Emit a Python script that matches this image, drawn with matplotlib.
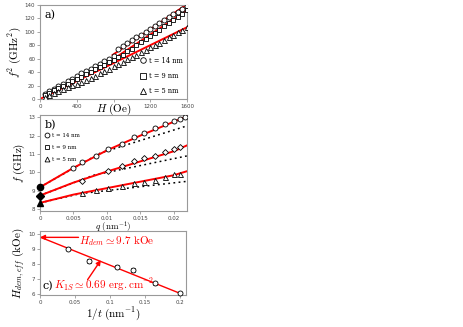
import matplotlib
matplotlib.use("Agg")
import matplotlib.pyplot as plt
import numpy as np

plt.rcParams['mathtext.fontset'] = 'cm'
plt.rcParams['font.family'] = ['DejaVu Serif']

# ---------- Panel a data ----------
H_field = [50, 100, 150, 200, 250, 300, 350, 400, 450, 500, 550, 600, 650, 700, 750, 800,
           850, 900, 950, 1000, 1050, 1100, 1150, 1200, 1250, 1300, 1350, 1400, 1450, 1500, 1550, 1600]
f2_t14 = [7, 12, 15.5, 19.5, 23, 27, 30.5, 34, 38, 41.5, 45, 49, 52.5, 56.5, 60, 64,
          74, 79, 83, 87.5, 92, 96, 100, 104.5, 109, 113, 117, 121.5, 126, 130, 134.5, 139]
f2_t9 = [6, 9.5, 13, 16.5, 20, 23, 26.5, 30, 33.5, 37, 40.5, 44, 47.5, 51, 54.5, 58,
         63, 66, 71, 75, 80, 85, 89, 94, 99, 103, 108, 113, 118, 122, 127, 132]
f2_t5 = [3, 6, 9, 12, 14.5, 17.5, 20.5, 23, 26, 29, 32, 35, 38, 41.5, 45, 48.5,
         52, 55.5, 59, 62.5, 66, 69.5, 73, 77, 80.5, 84, 88, 92, 96, 99.5, 103, 106.5]
fitA_H_t14 = [790, 1610]
fitA_f2_t14 = [65.5, 142]
fitA_H_t9 = [770, 1610]
fitA_f2_t9 = [57, 133]
fitA_H_t5 = [0, 1610]
fitA_f2_t5 = [0, 107.5]
legend_labels = ['t = 14 nm', 't = 9 nm', 't = 5 nm']

# ---------- Panel b data ----------
q_t14 = [0.0050, 0.00635, 0.00835, 0.01025, 0.01225, 0.014, 0.0156, 0.01725, 0.01875, 0.020, 0.021, 0.02175]
f_t14 = [10.22, 10.56, 10.88, 11.26, 11.57, 11.95, 12.15, 12.43, 12.62, 12.80, 12.92, 13.03]
q_t9 = [0.00625, 0.01025, 0.01225, 0.014, 0.0156, 0.01725, 0.01875, 0.020, 0.021]
f_t9 = [9.56, 10.10, 10.33, 10.60, 10.78, 10.92, 11.10, 11.28, 11.37]
q_t5 = [0.00625, 0.00835, 0.01025, 0.01225, 0.014, 0.0156, 0.01725, 0.01875, 0.020, 0.021]
f_t5 = [8.86, 9.05, 9.15, 9.24, 9.45, 9.50, 9.58, 9.75, 9.92, 9.93]
f0_values = [9.2, 8.75, 8.35]
fit_q = [0, 0.005, 0.01, 0.015, 0.02, 0.022]
fit_f_t14 = [9.2, 10.25, 11.2, 12.0, 12.75, 13.05]
fit_f_t9 = [8.75, 9.45, 10.05, 10.6, 11.15, 11.47]
fit_f_t5 = [8.35, 8.8, 9.15, 9.5, 9.85, 10.07]
lin_q_t14 = [0, 0.009, 0.022]
lin_f_t14 = [9.2, 11.05, 12.53]
lin_q_t9 = [0, 0.008, 0.022]
lin_f_t9 = [8.75, 9.85, 10.9]
lin_q_t5 = [0, 0.006, 0.022]
lin_f_t5 = [8.35, 8.85, 9.52]

# ---------- Panel c data ----------
inv_t = [0.0405, 0.0705, 0.110, 0.133, 0.165, 0.200]
H_dem = [9.01, 8.20, 7.80, 7.58, 6.71, 6.05]
H_dem_err = [0.12, 0.15, 0.1, 0.12, 0.12, 0.06]
fitC_x = [0, 0.2]
fitC_y = [9.77, 6.05]

fig = plt.figure(figsize=(4.63, 3.27), dpi=100)
W, Hh = 463.0, 327.0

def mk_axes(x0, y0, x1, y1):
    return fig.add_axes([x0 / W, 1 - y1 / Hh, (x1 - x0) / W, (y1 - y0) / Hh])

axa = mk_axes(40, 5, 187, 99)
axb = mk_axes(40, 115, 187, 211)
axc = mk_axes(40, 231, 186, 295)

spine_col = '#999999'
for ax in (axa, axb, axc):
    for s in ax.spines.values():
        s.set_color(spine_col)
        s.set_linewidth(0.8)
    ax.tick_params(direction='out', length=2, width=0.6, color=spine_col,
                   labelsize=4, labelcolor='#444444', pad=1.5)

mstyle = dict(mfc='white', mec='black', mew=0.6, ls='none')

# Panel a
axa.plot(fitA_H_t14, fitA_f2_t14, color='red', lw=1.4, zorder=2)
axa.plot(fitA_H_t9, fitA_f2_t9, color='red', lw=1.4, zorder=2)
axa.plot(fitA_H_t5, fitA_f2_t5, color='red', lw=1.4, zorder=2)
axa.plot(H_field, f2_t14, marker='o', ms=3.6, zorder=3, **mstyle)
axa.plot(H_field, f2_t9, marker='s', ms=3.4, zorder=3, **mstyle)
axa.plot(H_field, f2_t5, marker='^', ms=3.6, zorder=3, **mstyle)
axa.set_xlim(0, 1600)
axa.set_ylim(0, 140)
axa.set_xticks([0, 400, 800, 1200, 1600])
axa.set_xticklabels(['0', '400', '', '1200', '1600'], family='DejaVu Sans')
axa.set_yticks(range(0, 141, 20))
axa.set_yticklabels([str(v) for v in range(0, 141, 20)], family='DejaVu Sans')
axa.set_xlabel(r'$H\ (\mathrm{Oe})$', fontsize=8, labelpad=-5)
axa.set_ylabel(r'$f^2\ (\mathrm{GHz}^2)$', fontsize=8, labelpad=1)
axa.text(0.03, 0.95, 'a)', transform=axa.transAxes, fontsize=8, va='top', ha='left')
hs = [axa.plot([], [], marker=m, ms=4, **mstyle)[0] for m in ('o', 's', '^')]
axa.legend(hs, legend_labels, loc='lower right', frameon=False,
           handlelength=1.0, handletextpad=0.5, labelspacing=1.1,
           borderaxespad=0.15, prop={'family': 'DejaVu Serif', 'size': 4.8})

# Panel b
for lq, lf in ((lin_q_t14, lin_f_t14), (lin_q_t9, lin_f_t9), (lin_q_t5, lin_f_t5)):
    axb.plot(lq, lf, color='black', lw=1.1, ls=(0, (1.2, 2.2)), zorder=2)
for ff in (fit_f_t14, fit_f_t9, fit_f_t5):
    axb.plot(fit_q, ff, color='red', lw=1.4, zorder=3)
axb.plot(q_t14, f_t14, marker='o', ms=3.6, zorder=4, **mstyle)
axb.plot(q_t9, f_t9, marker='D', ms=3.0, zorder=4, **mstyle)
axb.plot(q_t5, f_t5, marker='^', ms=3.6, zorder=4, **mstyle)
for f0, m, s in zip(f0_values, ('o', 'D', '^'), (4.5, 4.0, 4.5)):
    axb.plot([0], [f0], marker=m, ms=s, color='black', ls='none', zorder=5, clip_on=False)
axb.set_xlim(0, 0.022)
axb.set_ylim(7.91, 13.12)
axb.set_xticks([0, 0.005, 0.01, 0.015, 0.02])
axb.set_xticklabels(['0', '0.005', '0.01', '0.015', '0.02'], family='DejaVu Sans')
axb.set_yticks([8, 9, 10, 11, 12, 13])
axb.set_yticklabels(['8', '9', '10', '11', '12', '13'], family='DejaVu Sans')
axb.set_xlabel(r'$q\ (\mathrm{nm}^{-1})$', fontsize=6.5, labelpad=-1)
axb.set_ylabel(r'$f\ (\mathrm{GHz})$', fontsize=8, labelpad=1)
axb.text(0.03, 0.95, 'b)', transform=axb.transAxes, fontsize=8, va='top', ha='left')
hs = [axb.plot([], [], marker=m, ms=3.5, **mstyle)[0] for m in ('o', 's', '^')]
axb.legend(hs, legend_labels, loc='upper left', bbox_to_anchor=(0.0, 0.85), frameon=False,
           handlelength=1.0, handletextpad=0.5, labelspacing=1.2,
           borderaxespad=0.3, prop={'family': 'DejaVu Serif', 'size': 4.0})

# Panel c
axc.plot(fitC_x, fitC_y, color='red', lw=1.0, zorder=2)
axc.errorbar(inv_t, H_dem, yerr=H_dem_err, fmt='o', ms=3.6, mfc='white', mec='black',
             mew=0.6, ecolor='black', elinewidth=0.6, capsize=1.2, zorder=3, clip_on=False)
axc.set_xlim(0, 0.2086)
axc.set_ylim(5.94, 10.17)
axc.set_xticks([0, 0.05, 0.1, 0.15, 0.2])
axc.set_xticklabels(['0', '0.05', '0.1', '0.15', '0.2'], family='DejaVu Sans')
axc.set_yticks([6, 7, 8, 9, 10])
axc.set_yticklabels(['6', '7', '8', '9', '10'], family='DejaVu Sans')
axc.set_xlabel(r'$1/t\ (\mathrm{nm}^{-1})$', fontsize=8, labelpad=0)
axc.set_ylabel(r'$H_{dem,eff}\ (\mathrm{kOe})$', fontsize=8, labelpad=1)
axc.text(0.02, 0.06, 'c)', transform=axc.transAxes, fontsize=8, va='bottom', ha='left')
axc.annotate('', xy=(0.0, 9.75), xytext=(0.055, 9.75),
             arrowprops=dict(arrowstyle='-|>', color='red', lw=1.0, mutation_scale=7,
                             shrinkA=0, shrinkB=0))
axc.text(0.056, 9.52, r'$H_{dem}\simeq 9.7\ \mathrm{kOe}$', color='red', fontsize=8,
         va='center', ha='left')
axc.annotate('', xy=(0.087, 8.25), xytext=(0.068, 6.95),
             arrowprops=dict(arrowstyle='-|>', color='red', lw=1.0, mutation_scale=7,
                             shrinkA=0, shrinkB=0))
axc.text(0.02, 6.6, r'$K_{1S}\simeq 0.69\ \mathrm{erg.cm}^{-2}$', color='red', fontsize=8,
         va='center', ha='left')

fig.savefig('out.png', dpi=100)
